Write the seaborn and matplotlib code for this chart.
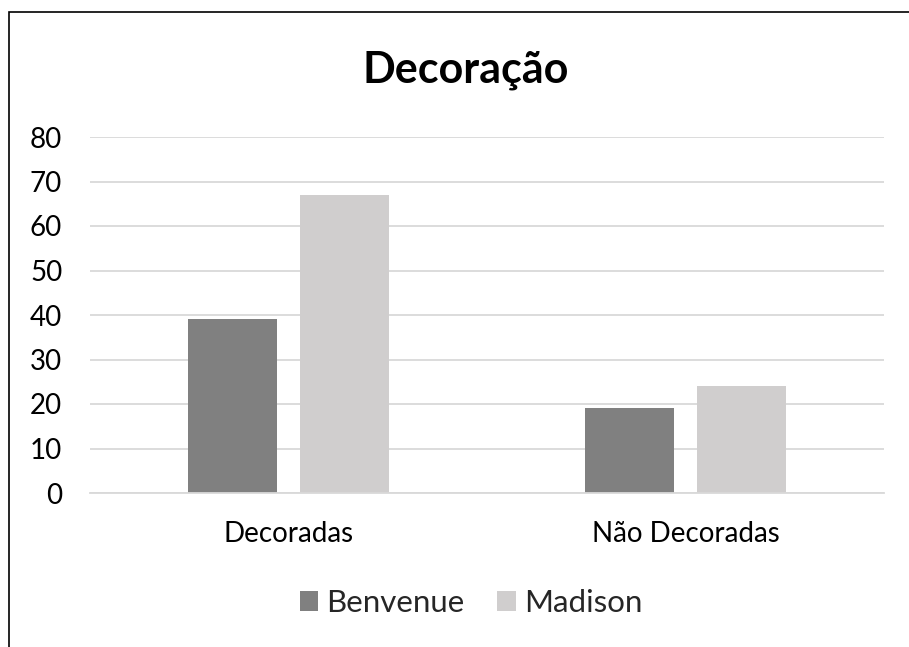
import matplotlib
matplotlib.use("Agg")
import matplotlib.pyplot as plt
import seaborn as sns
import pandas as pd
from matplotlib.patches import Rectangle

categories = ["Decoradas", "Não Decoradas"]
series_names = ["Benvenue", "Madison"]
benvenue = [39, 19]
madison = [67, 24]
y_ticks = [0, 10, 20, 30, 40, 50, 60, 70, 80]
title = "Decoração"

df = pd.DataFrame({
    "Categoria": categories * 2,
    "Série": [series_names[0]] * 2 + [series_names[1]] * 2,
    "Valor": benvenue + madison,
})

sns.set_theme(style="white")
FONT = ["Lato", "DejaVu Sans"]
plt.rcParams["font.family"] = FONT

fig = plt.figure(figsize=(9.09, 6.47), dpi=100)
ax = fig.add_axes([90 / 909, 1 - 493 / 647, (884 - 90) / 909, (493 - 137) / 647])

sns.barplot(data=df, x="Categoria", y="Valor", hue="Série",
            palette=["#808080", "#d0cece"], width=0.569, gap=0.212,
            ax=ax, legend=True, saturation=1, edgecolor="none")

ax.set_ylim(0, 80)
ax.set_xlim(-0.5, 1.5)
ax.set_yticks(y_ticks)
ax.yaxis.grid(True, color="#d9d9d9", linewidth=1.3)
ax.set_axisbelow(True)
for s in ["top", "right", "left"]:
    ax.spines[s].set_visible(False)
ax.spines["bottom"].set_color("#d9d9d9")
ax.spines["bottom"].set_linewidth(1.3)
ax.set_xlabel("")
ax.set_ylabel("")
ax.tick_params(axis="y", length=0, pad=20, labelsize=20, labelcolor="#000000")
ax.tick_params(axis="x", length=0, pad=20, labelsize=20, labelcolor="#000000")

fig.text(466 / 909, 1 - 70 / 647, title, ha="center", va="center",
         fontsize=31, fontweight="bold", color="black")

handles, labels = ax.get_legend_handles_labels()
ax.legend_.remove()
fig.legend(handles, labels, loc="center", bbox_to_anchor=(471 / 909, 1 - 603 / 647),
           ncol=2, frameon=False, fontsize=22.5, handlelength=0.6, handleheight=0.6,
           handletextpad=0.25, columnspacing=1.05, borderpad=0)

fig.patches.append(Rectangle((9 / 909, -0.1), 1.2, 1.1 - 12 / 647,
                             transform=fig.transFigure, fill=False,
                             edgecolor="black", linewidth=1.2, figure=fig))

fig.savefig("out.png", dpi=100, facecolor="white")
